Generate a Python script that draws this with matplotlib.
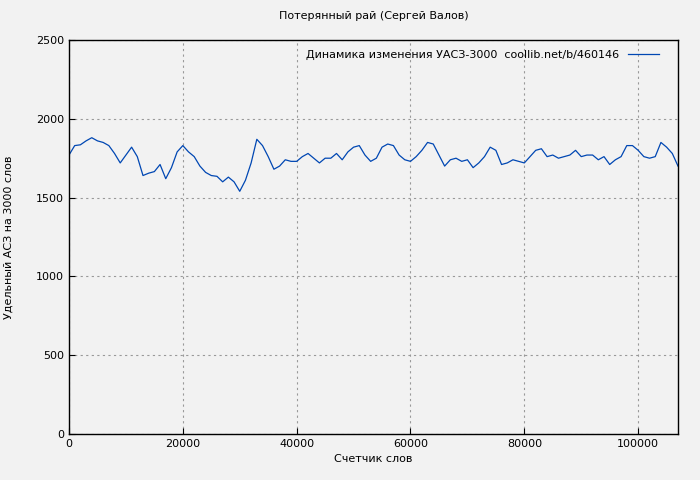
import matplotlib
matplotlib.use("Agg")
import matplotlib.pyplot as plt
import numpy as np

values = [1770,1830,1835,1860,1880,1860,1850,1830,1780,1720,1770,1820,1760,1640,1655,1665,1710,1620,1690,1790,
          1830,1790,1760,1700,1660,1640,1635,1600,1630,1600,1540,1610,1720,1870,1830,1760,1680,1700,1740,1730,
          1730,1760,1780,1750,1720,1750,1750,1780,1740,1790,1820,1830,1770,1730,1750,1820,1840,1830,1770,1740,
          1730,1760,1800,1850,1840,1770,1700,1740,1750,1730,1740,1690,1720,1760,1820,1800,1710,1720,1740,1730,
          1720,1760,1800,1810,1760,1770,1750,1760,1770,1800,1760,1770,1770,1740,1760,1710,1740,1760,1830,1830,
          1800,1760,1750,1760,1850,1820,1780,1700]
words = [i*1000 for i in range(len(values))]

plt.rcParams['font.family'] = ['DejaVu Sans']
fig = plt.figure(figsize=(7, 4.8), dpi=100, facecolor='#f2f2f2')
ax = fig.add_axes([69/700, 1-434/480, (678-69)/700, (434-40)/480])
ax.set_facecolor('#f2f2f2')
ax.plot(words, values, color='#0047b3', lw=0.9, label='Динамика изменения УАСЗ-3000  coollib.net/b/460146')
ax.set_xlim(0, 107000)
ax.set_ylim(0, 2500)
ax.set_xticks(range(0, 100001, 20000))
ax.set_yticks(range(0, 2501, 500))
ax.grid(True, color='#999999', linestyle=(0, (2, 3)), lw=0.8)
ax.tick_params(labelsize=8, direction='in', length=4)
for s in ax.spines.values():
    s.set_linewidth(1)
ax.set_title('Потерянный рай (Сергей Валов)', fontsize=8, pad=15)
ax.set_xlabel('Счетчик слов', fontsize=8)
ax.set_ylabel('Удельный АСЗ на 3000 слов', fontsize=8)
ax.yaxis.set_label_coords(-55/609, 0.5)
leg = ax.legend(loc='upper right', fontsize=8, frameon=False, markerfirst=False, handlelength=2.8,
                bbox_to_anchor=(0.985, 1.0))
fig.savefig('out.png', facecolor=fig.get_facecolor())
